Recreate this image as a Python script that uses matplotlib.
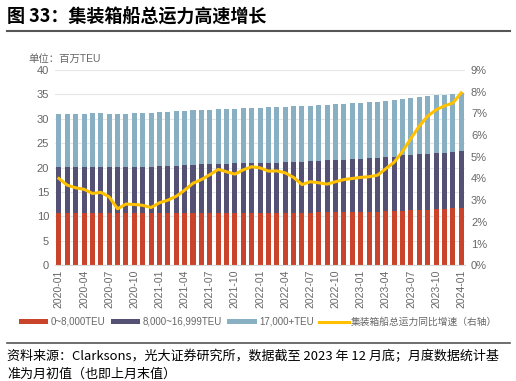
import matplotlib
matplotlib.use('agg')
import matplotlib.pyplot as plt
import numpy as np
import pandas as pd

plt.rcParams['font.family'] = ['Liberation Sans', 'Noto Sans CJK SC', 'DejaVu Sans']

# monthly data, 2020-01 .. 2024-01 (million TEU)
months = pd.date_range('2020-01', periods=49, freq='MS').strftime('%Y-%m').tolist()
small = [10.65] * 12 + [10.7] * 6 + [10.75] * 6 + [10.8] * 7 + [10.9] * 6 + \
        [10.95, 11.0, 11.05, 11.1, 11.15, 11.25, 11.3, 11.4, 11.45, 11.55, 11.65, 11.75]
mid = [9.55] * 12 + [9.6, 9.65, 9.7, 9.75, 9.9, 9.95, 9.95, 10.0, 10.05, 10.1, 10.15, 10.2,
                     10.2, 10.2, 10.25, 10.3, 10.35, 10.4, 10.5, 10.5, 10.6, 10.65, 10.7, 10.8,
                     10.9, 10.95, 11.0, 11.05, 11.1, 11.35, 11.4, 11.45, 11.45, 11.5, 11.55, 11.6, 11.7]
large = [10.9, 10.9, 10.9, 10.9, 11.0, 10.95, 10.9, 10.9, 10.9, 11.0, 11.05, 11.1,
         11.1, 11.15, 11.2, 11.25, 11.2, 11.2, 11.2, 11.25, 11.25, 11.25, 11.3, 11.3,
         11.3, 11.35, 11.35, 11.4, 11.4, 11.45, 11.4, 11.4, 11.4, 11.45, 11.5, 11.5,
         11.55, 11.55, 11.55, 11.6, 11.7, 11.55, 11.55, 11.65, 11.75, 11.85, 11.85, 11.9, 11.9]
growth = [4.00, 3.69, 3.57, 3.50, 3.31, 3.36, 3.15, 2.60, 2.82, 2.80, 2.76, 2.66,
          2.88, 3.00, 3.18, 3.46, 3.78, 3.95, 4.17, 4.42, 4.31, 4.20, 4.40, 4.54,
          4.49, 4.34, 4.35, 4.26, 4.05, 3.72, 3.85, 3.80, 3.74, 3.85, 3.95, 4.00,
          4.05, 4.08, 4.15, 4.45, 4.75, 5.25, 5.85, 6.42, 6.88, 7.17, 7.35, 7.48, 7.95]
labels = ['0~8,000TEU', '8,000~16,999TEU', '17,000+TEU', '集装箱船总运力同比增速（右轴）']

c_small, c_mid, c_large, c_line = '#C9442B', '#555174', '#89AFC3', '#FFC000'
grey = '#666666'

fig = plt.figure(figsize=(5.16, 3.81), dpi=100)
ax = fig.add_axes([0.106, 0.304, 0.796, 0.512])
ax2 = ax.twinx()

x = np.arange(len(months))
w = 0.6
ax.bar(x, small, w, color=c_small, label=labels[0], zorder=2)
ax.bar(x, mid, w, bottom=small, color=c_mid, label=labels[1], zorder=2)
bot = np.array(small) + np.array(mid)
ax.bar(x, large, w, bottom=bot, color=c_large, label=labels[2], zorder=2)
ax2.plot(x, growth, color=c_line, linewidth=2.2, label=labels[3], zorder=3)

ax.set_xlim(-0.5, len(months) - 0.5)
ax.set_ylim(0, 40)
ax.set_yticks(range(0, 41, 5))
ax2.set_ylim(0, 9)
ax2.set_yticks(range(0, 10))
ax2.set_yticklabels([f'{i}%' for i in range(10)])
ax.yaxis.grid(True, color='#E6E6E6', linewidth=0.8, zorder=0)
ax.set_axisbelow(True)

ax.set_xticks(x[::3])
ax.set_xticklabels(months[::3], rotation=90)
for a in (ax, ax2):
    for s in a.spines.values():
        s.set_visible(False)
    a.tick_params(length=0, labelsize=8, colors=grey, pad=4)
ax.spines['bottom'].set_visible(True)
ax.spines['bottom'].set_color('#D9D9D9')
ax.tick_params(axis='x', labelsize=7.5, pad=3)

fig.text(0.055, 0.838, '单位：百万TEU', fontsize=7.5, color=grey)

h1, l1 = ax.get_legend_handles_labels()
h2, l2 = ax2.get_legend_handles_labels()
fig.legend(h1 + h2, l1 + l2, loc='center', bbox_to_anchor=(0.5, 0.155), ncol=4,
           frameon=False, fontsize=7, labelcolor=grey, handlelength=3.0,
           handleheight=0.55, handletextpad=0.25, columnspacing=0.6)

fig.text(0.014, 0.955, '图 33：集装箱船总运力高速增长', fontsize=13, fontweight='bold',
         family=['Noto Sans CJK SC', 'DejaVu Sans'], va='center')
fig.add_artist(plt.Line2D([0.014, 0.988], [0.918, 0.918], color='#555555', linewidth=1.5))
fig.add_artist(plt.Line2D([0.014, 0.988], [0.1, 0.1], color='#555555', linewidth=1.2))
fig.text(0.014, 0.063, '资料来源：Clarksons，光大证券研究所，数据截至 2023 年 12 月底；月度数据统计基',
         fontsize=9.4, family=['Noto Sans CJK SC', 'DejaVu Sans'], va='center')
fig.text(0.014, 0.017, '准为月初值（也即上月末值）',
         fontsize=9.4, family=['Noto Sans CJK SC', 'DejaVu Sans'], va='center')

fig.savefig('out.png', dpi=100)
